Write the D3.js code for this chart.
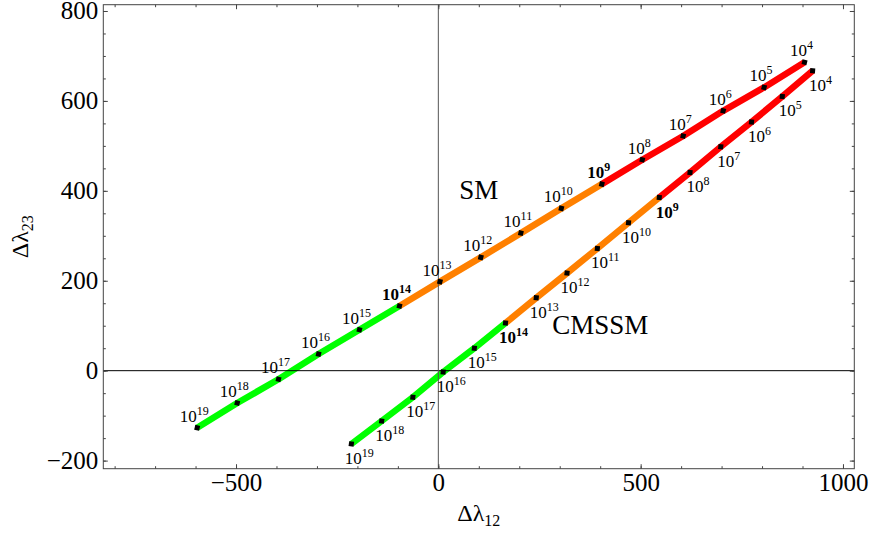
<!DOCTYPE html>
<html>
<head>
<meta charset="utf-8">
<script src="https://cdn.jsdelivr.net/npm/d3@7"></script>
<style>
  html, body { margin: 0; padding: 0; background: #fff; }
  svg { display: block; }
  text { font-family: "Liberation Serif", "DejaVu Serif", serif; }
</style>
</head>
<body>
<svg id="chart" width="871" height="533"></svg>
<script>
// ---- data ----
const exponents = [4, 5, 6, 7, 8, 9, 10, 11, 12, 13, 14, 15, 16, 17, 18, 19];
const smX = [905, 805, 704, 605, 504, 404, 304, 204, 105, 4, -96, -195, -296, -395, -497, -596];
const smY = [686, 630, 578, 522, 469, 415, 361, 306, 252, 198, 144, 91, 37, -19, -72, -127];
const cmX = [925, 850, 774, 698, 622, 546, 470, 393, 318, 242, 166, 89, 12, -63, -140, -215];
const cmY = [667, 610, 553, 498, 441, 385, 329, 272, 217, 162, 106, 50, -3, -59, -112, -163];
const boldExponents = [9, 14];
const segmentBreaks = [4, 9, 14, 19];
const segmentColors = ["#ff0000", "#ff8000", "#00ff00"];
const xTicks = [-500, 0, 500, 1000];
const yTicks = [-200, 0, 200, 400, 600, 800];
const xMinor = d3.range(-800, 1001, 100);
const yMinor = d3.range(-200, 801, 50);
const seriesNames = ["SM", "CMSSM"];
const seriesNamePos = [[100, 400], [400, 100]];

// ---- layout ----
const svg = d3.select("#chart");
const L = 103.3, R = 854.3, T = 4.7, B = 468.7;
const x = d3.scaleLinear().domain([-828, 1028]).range([L, R]);
const y = d3.scaleLinear().domain([-218, 814]).range([B, T]);
const frameColor = "#444";

const series = [
  { name: "SM", xs: smX, ys: smY, labelDx: -3, labelDy: -6 },
  { name: "CMSSM", xs: cmX, ys: cmY, labelDx: 8, labelDy: 20 }
];

// colored lines
const line = d3.line().x(d => x(d[0])).y(d => y(d[1]));
series.forEach(s => {
  const pts = exponents.map((e, i) => [s.xs[i], s.ys[i], e]);
  for (let k = 0; k < 3; k++) {
    const seg = pts.filter(p => p[2] >= segmentBreaks[k] && p[2] <= segmentBreaks[k + 1]);
    svg.append("path")
      .attr("d", line(seg))
      .attr("fill", "none")
      .attr("stroke", segmentColors[k])
      .attr("stroke-width", 6.5)
      .attr("stroke-linejoin", "round")
      .attr("stroke-linecap", "butt");
  }
});

// zero axes
svg.append("line").attr("x1", L).attr("x2", R).attr("y1", y(0)).attr("y2", y(0))
  .attr("stroke", "#000").attr("stroke-width", 1);
svg.append("line").attr("x1", x(0)).attr("x2", x(0)).attr("y1", T).attr("y2", B)
  .attr("stroke", "#555").attr("stroke-width", 1);

// markers and labels
series.forEach(s => {
  const n = exponents.length;
  exponents.forEach((e, i) => {
    const px = x(s.xs[i]), py = y(s.ys[i]);
    const a = Math.max(0, i - 1), b = Math.min(n - 1, i + 1);
    const ang = Math.atan2(y(s.ys[b]) - y(s.ys[a]), x(s.xs[b]) - x(s.xs[a])) * 180 / Math.PI;
    svg.append("rect")
      .attr("x", -2.5).attr("y", -2.5).attr("width", 5).attr("height", 5)
      .attr("fill", "#000")
      .attr("transform", `translate(${px},${py}) rotate(${ang + 45})`);
    const bold = boldExponents.includes(e);
    const t = svg.append("text")
      .attr("x", px + s.labelDx).attr("y", py + s.labelDy)
      .attr("text-anchor", "middle")
      .attr("font-size", 17)
      .attr("font-weight", bold ? "bold" : "normal")
      .attr("fill", "#000");
    t.append("tspan").text("10");
    t.append("tspan").attr("dy", -7).attr("font-size", 12).text(e);
  });
});

// series names
seriesNames.forEach((nm, i) => {
  svg.append("text")
    .attr("x", x(seriesNamePos[i][0])).attr("y", y(seriesNamePos[i][1]) + 8)
    .attr("text-anchor", "middle").attr("font-size", 27).attr("fill", "#000")
    .text(nm);
});

// frame
svg.append("rect").attr("x", L).attr("y", T).attr("width", R - L).attr("height", B - T)
  .attr("fill", "none").attr("stroke", frameColor).attr("stroke-width", 1);

function styleAxis(g) {
  g.select(".domain").remove();
  g.selectAll(".tick line").attr("stroke", frameColor);
  g.selectAll("text").attr("font-family", "Liberation Serif, serif").attr("font-size", 25).attr("fill", "#000");
}
// minor ticks (all sides)
const minorLen = 2.5, majorLen = 4.5;
svg.append("g").attr("transform", `translate(0,${B})`)
  .call(d3.axisBottom(x).tickValues(xMinor).tickSize(-minorLen).tickFormat("")).call(styleAxis);
svg.append("g").attr("transform", `translate(0,${T})`)
  .call(d3.axisTop(x).tickValues(xMinor).tickSize(-minorLen).tickFormat("")).call(styleAxis);
svg.append("g").attr("transform", `translate(${L},0)`)
  .call(d3.axisLeft(y).tickValues(yMinor).tickSize(-minorLen).tickFormat("")).call(styleAxis);
svg.append("g").attr("transform", `translate(${R},0)`)
  .call(d3.axisRight(y).tickValues(yMinor).tickSize(-minorLen).tickFormat("")).call(styleAxis);
// major ticks with labels
svg.append("g").attr("transform", `translate(0,${B})`)
  .call(d3.axisBottom(x).tickValues(xTicks).tickSize(-majorLen).tickPadding(5).tickFormat(d3.format("d"))).call(styleAxis);
svg.append("g").attr("transform", `translate(0,${T})`)
  .call(d3.axisTop(x).tickValues(xTicks).tickSize(-majorLen).tickFormat("")).call(styleAxis);
svg.append("g").attr("transform", `translate(${L},0)`)
  .call(d3.axisLeft(y).tickValues(yTicks).tickSize(-majorLen).tickPadding(5).tickFormat(d3.format("d"))).call(styleAxis);
svg.append("g").attr("transform", `translate(${R},0)`)
  .call(d3.axisRight(y).tickValues(yTicks).tickSize(-majorLen).tickFormat("")).call(styleAxis);

// axis titles
const xt = svg.append("text").attr("x", (L + R) / 2).attr("y", 521)
  .attr("text-anchor", "middle").attr("font-size", 24).attr("fill", "#000");
xt.append("tspan").text("Δλ");
xt.append("tspan").attr("dy", 5).attr("font-size", 16).text("12");

const yt = svg.append("text")
  .attr("transform", `translate(28,${(T + B) / 2}) rotate(-90)`)
  .attr("text-anchor", "middle").attr("font-size", 24).attr("fill", "#000");
yt.append("tspan").text("Δλ");
yt.append("tspan").attr("dy", 5).attr("font-size", 16).text("23");
</script>
</body>
</html>
